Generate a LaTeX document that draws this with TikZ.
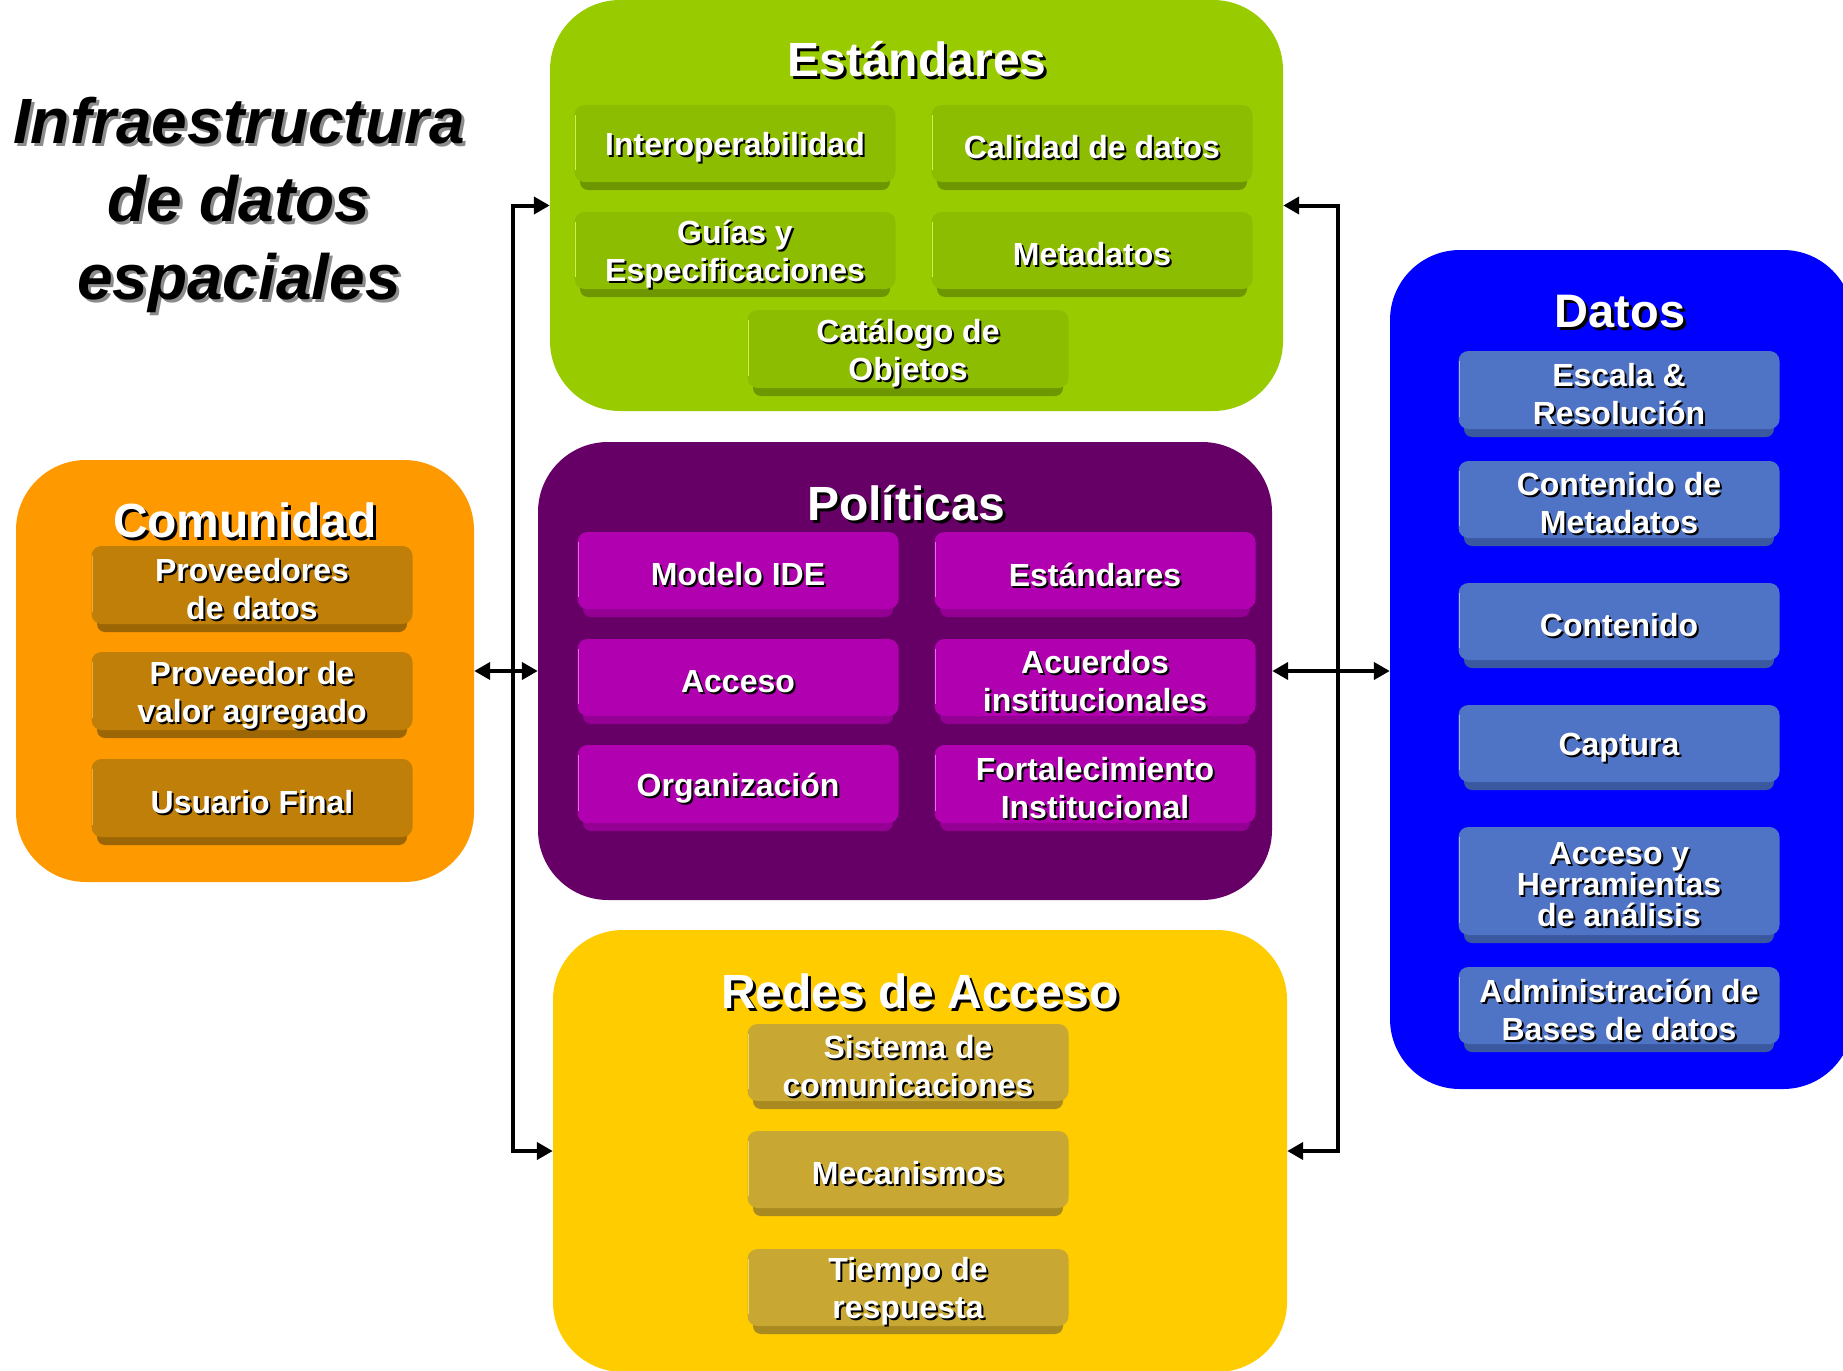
\documentclass[tikz,border=0pt]{standalone}
\usepackage{fontspec}
\setmainfont{Liberation Sans}
\usetikzlibrary{arrows.meta}
\definecolor{estbg}{HTML}{99CC00}
\definecolor{estface}{HTML}{8CBD00}
\definecolor{estband}{HTML}{6E9600}
\definecolor{esthl}{HTML}{D4F050}
\definecolor{polbg}{HTML}{660066}
\definecolor{polface}{HTML}{B000B0}
\definecolor{polband}{HTML}{940094}
\definecolor{polhl}{HTML}{E070E0}
\definecolor{combg}{HTML}{FF9900}
\definecolor{comface}{HTML}{BF7F08}
\definecolor{comband}{HTML}{9C6604}
\definecolor{comhl}{HTML}{E8B040}
\definecolor{redbg}{HTML}{FFCC00}
\definecolor{redface}{HTML}{C8A832}
\definecolor{redband}{HTML}{A88A20}
\definecolor{redhl}{HTML}{F0D860}
\definecolor{datbg}{HTML}{0000FF}
\definecolor{datface}{HTML}{4F74C6}
\definecolor{datband}{HTML}{3A58A0}
\definecolor{dathl}{HTML}{A0B8F0}
\tikzset{
  bigbox/.style={rectangle, draw=none, rounded corners=70pt, inner sep=0pt},
  btnface/.style={rectangle, draw=none, rounded corners=10pt, inner sep=0pt, minimum width=321},
  btntxt/.style={align=center, inner sep=0pt, font=\bfseries\fontsize{32}{38}\selectfont},
  ttltxt/.style={align=center, inner sep=0pt},
  conn/.style={line width=4pt, draw=black, {Triangle[length=16pt,width=17pt]}-{Triangle[length=16pt,width=17pt]}}
}
% name, cx, top, height, palette, text
\newcommand\btn[6]{%
  \fill[#5band, rounded corners=8pt] (#2-155,{#3+20}) rectangle (#2+155,{#3+#4});
  \node[btnface, fill=#5face, minimum height={#4-8}] (#1) at (#2,{#3+(#4-8)/2}) {};
  \draw[#5hl, line width=1.5pt] ([xshift=1pt,yshift=-10pt]#1.north west) -- ([xshift=1pt,yshift=12pt]#1.south west);
  \node[btntxt, text=black] (#1-s) at ([shift={(2pt,-6pt)}]#1.center) {#6};
  \node[btntxt, text=white] (#1-t) at ([yshift=-4pt]#1.center) {#6};
}
% name, x, y, size, text
\newcommand\ttl[5]{%
  \node[ttltxt, text=black, font=\bfseries\fontsize{#4}{#4}\selectfont] (#1-s) at (#2+3,{#3+3}) {#5};
  \node[ttltxt, text=white, font=\bfseries\fontsize{#4}{#4}\selectfont] (#1) at (#2,#3) {#5};
}
\begin{document}
\begin{tikzpicture}[x=1pt,y=-1pt]
\path[use as bounding box, clip] (0,0) rectangle (1843,1370);
\fill[white] (0,0) rectangle (1843,1370);

% main title
\node[align=center, inner sep=0pt, text=black!45, font=\bfseries\itshape\fontsize{64}{78}\selectfont] (main-s) at (242,208) {Infraestructura\\de datos\\espaciales};
\node[align=center, inner sep=0pt, text=black, font=\bfseries\itshape\fontsize{64}{78}\selectfont] (main) at (239,205) {Infraestructura\\de datos\\espaciales};

% big boxes
\node[bigbox, fill=estbg, minimum width=733, minimum height=411] (est) at (916.5,205.5) {};
\node[bigbox, fill=polbg, minimum width=734, minimum height=458] (pol) at (905,671) {};
\node[bigbox, fill=combg, minimum width=458, minimum height=422] (com) at (245,671) {};
\node[bigbox, fill=redbg, minimum width=734, minimum height=442] (red) at (920,1151) {};
\node[bigbox, fill=datbg, minimum width=463, minimum height=839] (dat) at (1621.5,669.5) {};

% titles
\ttl{est-t}{917}{59}{48}{Estándares}
\ttl{pol-t}{906}{503}{48}{Políticas}
\ttl{com-t}{245}{520}{48}{Comunidad}
\ttl{red-t}{920}{991}{48}{Redes de Acceso}
\ttl{dat-t}{1620}{312}{47}{Datos}

% Estándares buttons
\btn{interop}{735}{105}{85}{est}{Interoperabilidad}
\btn{calidad}{1092}{105}{85}{est}{Calidad de datos}
\btn{guias}{735}{212}{85}{est}{Guías y\\Especificaciones}
\btn{metadatos}{1092}{212}{85}{est}{Metadatos}
\btn{catalogo}{908}{310}{86}{est}{Catálogo de\\Objetos}

% Políticas buttons
\btn{modelo}{738}{532}{85}{pol}{Modelo IDE}
\btn{polest}{1095}{532}{85}{pol}{Estándares}
\btn{acceso}{738}{639}{85}{pol}{Acceso}
\btn{acuerdos}{1095}{639}{85}{pol}{Acuerdos\\institucionales}
\btn{organiz}{738}{745}{86}{pol}{Organización}
\btn{fortal}{1095}{745}{86}{pol}{Fortalecimiento\\Institucional}

% Comunidad buttons
\btn{provdat}{252}{546}{86}{com}{Proveedores\\de datos}
\btn{provval}{252}{652}{86}{com}{Proveedor de\\valor agregado}
\btn{usuario}{252}{759}{86}{com}{Usuario Final}

% Redes buttons
\btn{sistema}{908}{1024}{85}{red}{Sistema de\\comunicaciones}
\btn{mecan}{908}{1131}{85}{red}{Mecanismos}
\btn{tiempo}{908}{1249}{85}{red}{Tiempo de\\respuesta}

% Datos buttons
\btn{escala}{1619}{351}{86}{dat}{Escala \&\\Resolución}
\btn{contmeta}{1619}{461}{85}{dat}{Contenido de\\Metadatos}
\btn{contenido}{1619}{583}{85}{dat}{Contenido}
\btn{captura}{1619}{705}{85}{dat}{Captura}
\btn{herram}{1619}{827}{116}{dat}{Acceso y\\[-7pt]Herramientas\\[-7pt]de análisis}
\btn{admin}{1619}{967}{85}{dat}{Administración de\\Bases de datos}

% connectors
\coordinate (L) at (513,671);
\coordinate (R) at (1338,671);
\draw[conn] (red.west) -- (L |- red.west) -- (L |- est.west) -- (est.west);
\draw[conn] (com.east) -- (pol.west);
\draw[conn] (red.east) -- (R |- red.east) -- (R |- est.east) -- (est.east);
\draw[conn] (pol.east) -- (dat.west |- pol.east);
\end{tikzpicture}
\end{document}
